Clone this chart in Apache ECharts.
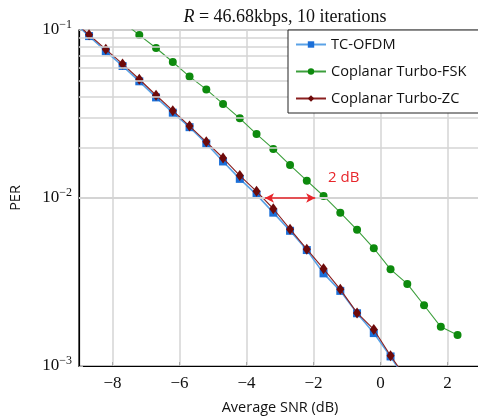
<!DOCTYPE html>
<html><head><meta charset="utf-8">
<script src="https://cdn.jsdelivr.net/npm/echarts@6/dist/echarts.min.js"></script>
<style>html,body{margin:0;padding:0;background:#fff}#c{width:478px;height:416px}</style>
</head><body><div id="c"></div>
<script>
// ---- data ----
const snrZC = [-9.2,-8.7,-8.2,-7.7,-7.2,-6.7,-6.2,-5.7,-5.2,-4.7,-4.2,-3.7,-3.2,-2.7,-2.2,-1.7,-1.2,-0.7,-0.2,0.3,0.8];
const perOFDM = [0.1136,0.092,0.0747,0.0611,0.0495,0.0397,0.0322,0.0264,0.0211,0.0165,0.0130,0.01047,0.00818,0.00638,0.0049,0.00356,0.0028,0.00206,0.00157,0.00114,0.00080];
const perZC = [0.1146,0.0937,0.0767,0.0628,0.0509,0.0409,0.0331,0.0268,0.0216,0.0173,0.0136,0.01096,0.00863,0.00652,0.00496,0.00379,0.00286,0.00207,0.00165,0.00115,0.00083];
const snrFSK = [-7.7,-7.2,-6.7,-6.2,-5.7,-5.2,-4.7,-4.2,-3.7,-3.2,-2.7,-2.2,-1.7,-1.2,-0.7,-0.2,0.3,0.8,1.3,1.8,2.3];
const perFSK = [0.112,0.0933,0.0781,0.0645,0.0528,0.0443,0.0363,0.0298,0.0240,0.0196,0.0157,0.01268,0.01028,0.00818,0.00647,0.00502,0.00376,0.00308,0.0023,0.00171,0.00153];
const xTicks = [-8,-6,-4,-2,0,2];
const yMinorGrid = [0.002,0.003,0.004,0.005,0.006,0.007,0.008,0.009,0.02,0.03,0.04,0.05,0.06,0.07,0.08,0.09];
const seriesNames = ['TC-OFDM','Coplanar Turbo-FSK','Coplanar Turbo-ZC'];
const arrowFrom = [-3.45, 0.01];
const arrowTo = [-1.95, 0.01];
const arrowLabel = '2 dB';
const arrowLabelAt = [-1.1, 0.0132];
const titleText = '46.68kbps, 10 iterations';
const xName = 'Average SNR (dB)';
const yName = 'PER';

const zip = (a,b) => a.map((v,i)=>[v,b[i]]);
const supMap = {'-1':'−1','-2':'−2','-3':'−3'};

const chart = echarts.init(document.getElementById('c'), null, {renderer:'canvas'});
chart.setOption({
  animation:false,
  title:{
    text:'{i|R} = ' + titleText,
    left: 280, top: 3, textAlign:'center',
    textStyle:{fontFamily:'Liberation Serif', fontSize:18, fontWeight:'normal', color:'#111',
      rich:{i:{fontStyle:'italic', fontFamily:'Liberation Serif', fontSize:18, color:'#111'}}}
  },
  grid:{left:79, top:30, width:402, height:336, show:true, borderColor:'#000', borderWidth:1.2,
    containLabel:false, outerBoundsMode:'none'},
  legend:{
    orient:'vertical', left:288, top:30, padding:[7,30,7,7], z:100,
    backgroundColor:'#fff', borderColor:'#222', borderWidth:1, borderRadius:0,
    itemWidth:30, itemHeight:8, itemGap:12,
    textStyle:{fontFamily:'Open Sans', fontSize:14.6, color:'#111'},
    data: seriesNames
  },
  xAxis:{
    type:'value', min:-9, max:3,
    name:xName, nameLocation:'middle', nameGap:34,
    nameTextStyle:{fontFamily:'Open Sans', fontSize:14.5, color:'#111'},
    axisLine:{show:true, onZero:false, lineStyle:{color:'#000', width:1.2}},
    axisTick:{show:true, inside:true, length:4, lineStyle:{color:'#aaa'}, customValues:xTicks},
    axisLabel:{customValues:xTicks, margin:9, fontFamily:'Liberation Serif', fontSize:17, color:'#111',
      formatter:v=> String(v).replace('-','−')},
    splitLine:{show:true, lineStyle:{color:'#d4d4d4', width:1.5}}
  },
  yAxis:{
    type:'log', logBase:10, min:0.001, max:0.1,
    name:yName, nameLocation:'middle', nameGap:56, nameRotate:90,
    nameTextStyle:{fontFamily:'Open Sans', fontSize:14.5, color:'#111'},
    axisLine:{show:true, onZero:false, lineStyle:{color:'#000', width:1.2}},
    axisTick:{show:true, inside:true, length:4, lineStyle:{color:'#aaa'}},
    axisLabel:{margin:7, color:'#111',
      formatter:v=>{const e=Math.round(Math.log10(v)); return '{b|10}{s|'+supMap[String(e)]+'}';},
      rich:{b:{fontFamily:'Liberation Serif', fontSize:17, color:'#111'},
            s:{fontFamily:'Liberation Serif', fontSize:12, color:'#111', verticalAlign:'top', padding:[0,0,10,0]}}},
    splitLine:{show:true, lineStyle:{color:'#d4d4d4', width:1.5}}
  },
  series:[
    {type:'line', name:'_grid', z:1, silent:true, data:[], showSymbol:false,
      markLine:{silent:true, symbol:'none', label:{show:false}, animation:false,
        lineStyle:{color:'#d4d4d4', width:1.5, type:'solid'},
        data: yMinorGrid.map(v=>({yAxis:v}))}},
    {type:'line', name:seriesNames[0], z:3, data:zip(snrZC, perOFDM), clip:true,
      symbol:'rect', symbolSize:8, itemStyle:{color:'#1b6fd8'},
      lineStyle:{color:'#5aa2e6', width:1.6}},
    {type:'line', name:seriesNames[1], z:3, data:zip(snrFSK, perFSK), clip:true,
      symbol:'circle', symbolSize:8, itemStyle:{color:'#0d8a0d'},
      lineStyle:{color:'#3c9f3c', width:1.1},
      markLine:{silent:true, symbol:['arrow','arrow'], symbolSize:[7,9], label:{show:false},
        lineStyle:{color:'#e8262b', width:1.5, type:'solid'},
        data:[[{coord:arrowFrom},{coord:arrowTo}]]},
      markPoint:{silent:true, symbol:'circle', symbolSize:1, itemStyle:{color:'rgba(0,0,0,0)'},
        label:{show:true, formatter:arrowLabel, color:'#e8262b', fontFamily:'Open Sans', fontSize:15, position:'inside'},
        data:[{coord:arrowLabelAt}]}},
    {type:'line', name:seriesNames[2], z:4, data:zip(snrZC, perZC), clip:true,
      symbol:'diamond', symbolSize:[8,11], itemStyle:{color:'#6e0a0a'},
      lineStyle:{color:'#8a1f1f', width:1.1}}
  ]
});
</script></body></html>
